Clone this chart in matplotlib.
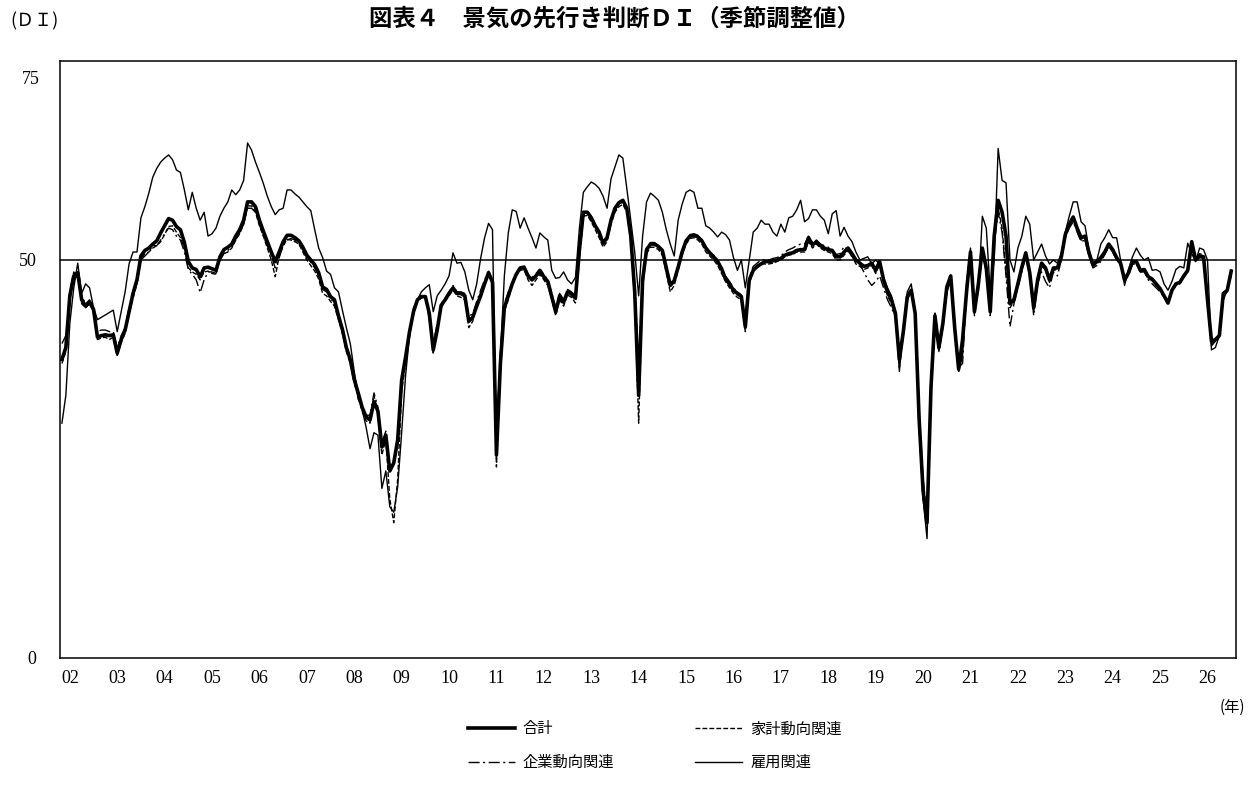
import numpy as np
import matplotlib.pyplot as plt
from matplotlib import transforms

plt.rcParams['font.family'] = ['Noto Sans CJK JP', 'DejaVu Sans']

# monthly values, Jan 2002 onward (one row per year)
total = [
    37.5, 39.0, 45.5, 48.0, 48.4, 45.0, 44.2, 44.7, 43.8, 40.3, 40.5, 40.6,
    40.5, 40.6, 38.3, 40.0, 41.2, 43.5, 45.8, 47.5, 50.5, 51.2, 51.5, 52.0,
    52.4, 53.4, 54.3, 55.2, 55.0, 54.2, 53.8, 52.2, 49.8, 49.0, 48.8, 47.9,
    49.0, 49.1, 48.9, 48.7, 50.4, 51.3, 51.6, 52.0, 53.0, 53.8, 55.0, 57.3,
    57.3, 56.7, 55.0, 53.6, 52.3, 51.0, 49.8, 51.0, 52.3, 53.1, 53.1, 52.8,
    52.4, 51.6, 50.6, 50.0, 49.4, 48.4, 46.6, 46.3, 45.4, 45.0, 43.0, 41.3,
    39.0, 37.5, 35.0, 33.3, 31.5, 30.3, 29.9, 32.2, 31.0, 26.5, 28.0, 23.5,
    24.5, 27.4, 34.9, 37.8, 41.0, 43.5, 45.0, 45.4, 45.4, 43.3, 38.7, 41.2,
    44.3, 45.0, 45.8, 46.5, 45.8, 45.8, 45.5, 42.3, 42.8, 44.2, 45.5, 47.0,
    48.4, 47.2, 25.5, 37.0, 44.0, 45.5, 47.0, 48.2, 49.0, 49.1, 48.0, 47.5,
    48.0, 48.7, 47.9, 47.3, 45.4, 43.5, 45.5, 44.7, 46.0, 45.7, 45.2, 51.3,
    56.0, 56.0, 55.3, 54.3, 53.5, 52.1, 52.8, 55.0, 56.5, 57.2, 57.5, 56.5,
    53.0, 46.0, 33.0, 47.5, 51.3, 52.0, 52.0, 51.7, 51.2, 49.0, 46.8, 47.4,
    49.1, 51.0, 52.4, 53.0, 53.1, 52.9, 52.4, 51.5, 50.9, 50.4, 49.8, 48.9,
    47.6, 47.0, 46.2, 45.8, 45.4, 41.6, 47.5, 48.7, 49.2, 49.5, 49.8, 49.8,
    49.9, 50.0, 50.2, 50.6, 50.8, 50.9, 51.2, 51.3, 51.3, 52.8, 51.9, 52.3,
    51.8, 51.5, 51.3, 51.2, 50.4, 50.4, 51.0, 51.5, 50.8, 50.0, 49.6, 49.2,
    49.3, 49.6, 48.7, 49.8, 47.5, 46.0, 45.0, 43.3, 37.5, 41.0, 45.4, 46.2,
    43.3, 30.0, 21.0, 17.0, 34.0, 43.0, 39.0, 42.0, 46.6, 48.0, 41.5, 36.3,
    40.0, 46.0, 51.0, 43.5, 47.0, 51.5, 49.0, 43.5, 53.0, 57.5, 56.0, 53.0,
    44.5, 45.0, 47.0, 49.1, 50.9, 48.4, 44.0, 47.5, 49.6, 49.0, 47.5, 49.0,
    49.0, 50.4, 53.2, 54.5, 55.4, 54.0, 52.8, 53.0, 50.9, 49.4, 49.8, 50.3,
    51.0, 52.0, 51.3, 50.3, 49.6, 47.5, 48.4, 49.8, 49.8, 48.7, 48.8, 47.9,
    47.6, 47.0, 46.4, 45.5, 44.6, 46.2, 47.0, 47.2, 48.0, 48.7, 52.3, 50.0,
    50.5, 50.4, 45.0, 39.8, 40.0, 40.5, 45.8, 46.2, 48.6,
]

household = [
    37.0, 38.5, 46.0, 48.5, 48.0, 44.5, 44.0, 44.5, 43.5, 40.0, 40.2, 40.3,
    40.0, 40.3, 38.0, 39.6, 40.8, 43.2, 45.2, 47.0, 50.0, 50.8, 51.0, 51.5,
    51.8, 52.3, 53.2, 54.2, 54.3, 53.5, 52.8, 51.5, 49.0, 48.5, 48.2, 47.5,
    48.5, 48.6, 48.3, 48.2, 50.0, 50.8, 51.0, 51.5, 52.5, 53.3, 54.5, 56.8,
    56.8, 56.0, 54.3, 53.0, 51.5, 50.0, 47.9, 50.5, 51.8, 52.6, 52.5, 52.3,
    52.0, 51.0, 50.0, 49.3, 48.6, 47.6, 45.8, 45.5, 44.8, 44.2, 42.5, 40.8,
    38.5, 37.0, 34.5, 32.8, 31.0, 29.8, 29.5, 33.0, 30.5, 25.5, 27.5, 20.0,
    17.0, 22.5, 33.5, 37.0, 40.5, 43.3, 45.0, 45.2, 45.5, 43.0, 38.3, 41.0,
    44.0, 44.8, 45.5, 46.2, 45.5, 45.3, 45.0, 41.5, 42.3, 44.3, 45.8, 47.0,
    48.2, 47.0, 24.0, 36.0, 43.5, 45.0, 46.8, 48.0, 48.7, 48.8, 47.5, 46.8,
    47.5, 48.2, 47.5, 46.8, 45.0, 43.0, 45.0, 44.2, 45.6, 45.3, 44.6, 50.0,
    55.5, 55.6, 54.8, 53.8, 52.8, 51.6, 52.3, 54.5, 56.0, 56.7, 57.0, 56.0,
    52.5, 45.0, 29.5, 46.5, 50.8, 51.6, 51.6, 51.3, 50.6, 48.3, 46.0, 46.8,
    48.7, 50.6, 52.0, 52.7, 52.8, 52.5, 52.0, 51.0, 50.5, 50.0, 49.3, 48.3,
    47.3, 46.5, 45.8, 45.3, 45.0, 41.0, 47.0, 48.6, 49.0, 49.5, 49.5, 49.5,
    49.6, 49.8, 50.0, 50.4, 50.6, 50.7, 51.0, 51.0, 51.0, 52.3, 51.5, 52.0,
    51.5, 51.2, 51.0, 50.8, 50.0, 50.0, 50.6, 51.2, 50.5, 49.5, 49.2, 48.8,
    49.0, 49.3, 48.3, 49.5, 47.2, 45.5, 44.5, 42.8, 36.5, 40.5, 45.0, 46.0,
    43.0, 29.0, 20.0, 18.0, 34.5, 43.5, 39.0, 42.0, 46.5, 48.0, 41.0, 36.0,
    39.5, 45.5, 50.5, 43.0, 46.5, 51.0, 48.5, 43.0, 52.5, 56.5, 54.0, 48.5,
    44.0, 44.8, 46.8, 48.8, 50.5, 48.0, 43.5, 47.2, 49.3, 48.7, 47.2, 48.7,
    48.8, 50.0, 53.0, 54.2, 55.0, 53.6, 52.5, 52.6, 50.6, 49.2, 49.5, 50.0,
    50.7, 51.7, 51.0, 50.0, 49.4, 47.3, 48.2, 49.5, 49.5, 48.5, 48.6, 47.7,
    47.4, 46.8, 46.2, 45.3, 44.5, 46.0, 46.8, 47.0, 47.8, 48.5, 51.2, 50.2,
    50.3, 50.2, 44.8, 39.5, 39.8, 40.3, 45.5, 46.0, 48.4,
]

corporate = [
    39.5, 40.5, 45.0, 47.5, 48.0, 45.5, 44.5, 45.0, 44.0, 41.0, 41.2, 41.2,
    41.0, 41.0, 39.0, 40.5, 41.5, 44.0, 45.5, 47.5, 50.0, 50.5, 51.0, 51.8,
    51.8, 52.5, 53.3, 54.0, 53.8, 53.0, 52.5, 51.0, 48.8, 48.2, 47.5, 45.9,
    47.5, 48.5, 48.5, 48.3, 50.0, 50.8, 51.2, 51.6, 52.6, 53.4, 54.5, 56.5,
    56.5, 56.0, 54.5, 53.0, 51.8, 50.6, 49.0, 50.3, 51.8, 52.5, 52.7, 52.5,
    52.0, 51.3, 50.3, 49.7, 49.0, 48.0, 46.3, 46.0, 45.0, 44.8, 42.8, 41.0,
    38.8, 37.2, 35.0, 32.5, 31.5, 30.5, 30.5, 33.3, 31.5, 27.0, 28.5, 24.0,
    24.5, 27.5, 34.5, 38.0, 40.8, 43.3, 45.0, 45.4, 45.5, 42.5, 39.5, 42.0,
    44.5, 45.2, 46.0, 46.8, 46.0, 46.0, 45.8, 43.0, 43.2, 44.8, 46.2, 47.5,
    48.6, 47.5, 28.0, 38.5, 44.5, 46.0, 47.2, 48.3, 49.0, 49.2, 48.2, 47.8,
    48.3, 48.8, 48.2, 47.5, 45.8, 44.0, 45.8, 45.0, 46.3, 46.0, 45.5, 51.0,
    55.8, 56.2, 55.5, 54.5, 53.5, 52.3, 53.0, 55.0, 56.3, 57.0, 57.3, 56.3,
    53.3, 47.0, 37.0, 48.0, 51.5, 52.2, 52.2, 51.8, 51.3, 49.3, 47.2, 47.5,
    49.3, 51.2, 52.5, 53.2, 53.3, 53.1, 52.6, 51.7, 51.0, 50.6, 50.0, 49.0,
    48.0, 47.3, 46.5, 46.0, 45.6, 42.5, 47.8, 49.2, 49.6, 50.0, 50.0, 50.0,
    50.2, 50.3, 50.5, 51.0, 51.3, 51.5, 51.8, 52.0, 52.0, 53.0, 52.2, 52.5,
    52.0, 51.8, 51.6, 51.3, 50.7, 50.8, 51.7, 51.2, 50.4, 49.8, 49.5, 48.5,
    47.5, 46.8, 47.3, 48.0, 46.5, 45.0, 44.0, 42.8, 38.0, 41.5, 45.5, 46.3,
    43.5, 31.0, 22.5, 18.0, 34.0, 42.5, 38.5, 41.5, 46.0, 47.5, 41.5, 36.5,
    37.0, 46.0, 51.0, 44.0, 47.0, 51.0, 48.5, 43.5, 52.0, 56.0, 53.5, 48.0,
    41.6, 44.5, 46.5, 48.5, 50.5, 48.0, 43.0, 47.0, 48.5, 47.3, 46.5, 48.5,
    48.0, 50.0, 52.8, 54.0, 54.8, 53.5, 52.3, 52.5, 50.5, 49.0, 49.3, 49.8,
    50.7, 51.8, 51.0, 50.0, 49.3, 47.5, 48.0, 49.5, 49.5, 48.5, 48.5, 47.5,
    47.0, 46.5, 46.0, 45.3, 44.8, 46.3, 47.0, 47.3, 48.0, 48.7, 51.8, 50.0,
    50.8, 50.6, 44.5, 39.2, 39.8, 40.5, 45.2, 46.2, 48.8,
]

employment = [
    29.5, 33.0, 42.0, 46.5, 49.6, 45.8, 47.0, 46.5, 44.0, 42.5, 42.8, 43.1,
    43.4, 43.7, 41.0, 43.5, 46.0, 49.5, 51.0, 51.0, 55.3, 56.7, 58.4, 60.4,
    61.5, 62.3, 62.8, 63.2, 62.6, 61.3, 61.0, 58.8, 56.3, 58.5, 56.5, 55.0,
    56.0, 53.0, 53.3, 54.0, 55.5, 56.5, 57.3, 58.8, 58.2, 58.8, 60.0, 64.7,
    63.8, 62.3, 61.0, 59.6, 58.0, 56.7, 55.7, 56.3, 56.5, 58.8, 58.8, 58.3,
    57.9, 57.3, 56.7, 56.2, 53.8, 51.5, 50.3, 48.6, 48.2, 46.5, 46.0, 43.7,
    41.5, 39.5, 36.0, 33.0, 31.2, 29.0, 26.3, 28.3, 28.0, 21.3, 23.5, 19.0,
    18.3, 21.5, 28.3, 35.5, 40.5, 44.0, 45.0, 46.0, 46.5, 46.9, 43.5, 45.5,
    46.2, 47.0, 48.0, 50.9, 49.6, 49.7, 48.5, 46.2, 45.0, 47.0, 50.2, 52.8,
    54.6, 53.8, 25.0, 38.0, 48.0, 53.4, 56.3, 56.1, 54.0, 55.3, 54.0, 52.8,
    51.5, 53.4, 52.9, 52.5, 48.7, 47.7, 47.8, 48.5, 47.5, 47.0, 47.8, 54.0,
    58.5, 59.2, 59.8, 59.5, 59.0, 58.0, 56.5, 60.2, 61.7, 63.2, 62.8, 59.0,
    55.0, 51.0, 45.5, 53.0, 57.3, 58.4, 58.0, 57.5, 56.0, 53.8, 52.0, 50.5,
    55.0, 57.0, 58.5, 58.8, 58.5, 56.5, 56.5, 54.3, 54.0, 53.5, 52.9, 53.5,
    53.2, 52.5, 50.3, 48.7, 50.0, 46.5, 50.0, 53.5, 54.0, 55.0, 54.5, 54.5,
    53.5, 53.0, 54.5, 53.5, 55.3, 55.5, 56.3, 57.5, 54.8, 55.2, 56.3, 56.3,
    55.5, 55.0, 53.3, 55.8, 56.2, 53.0, 54.1, 53.0, 52.3, 51.0, 50.0, 50.2,
    50.4, 49.5, 50.0, 49.5, 47.8, 46.5, 45.5, 43.5, 36.0, 41.5, 46.0, 47.0,
    43.5, 29.0, 20.0, 15.0, 33.0, 42.5, 38.5, 42.0, 46.0, 47.5, 41.0, 36.0,
    38.0, 47.0, 51.5, 44.0, 46.0, 55.5, 54.0, 46.0, 50.0, 64.0, 60.0, 59.7,
    50.0, 48.5, 51.5, 53.0, 55.5, 54.5, 50.0, 51.0, 52.0, 50.5, 49.5, 50.0,
    49.6, 50.8, 53.5, 55.5, 57.3, 57.3, 54.8, 54.3, 51.3, 49.6, 50.0, 52.0,
    52.8, 53.8, 52.8, 52.8, 50.0, 46.8, 48.8, 50.4, 51.5, 50.6, 50.0, 50.3,
    48.7, 48.8, 48.5, 47.0, 46.2, 47.3, 48.8, 49.2, 49.0, 52.1, 50.8, 49.8,
    51.5, 51.3, 50.0, 38.7, 39.0, 40.5, 45.0, 46.2, 48.0,
]

years = list(range(2002, 2027))
year_labels = ["%02d" % (y % 100) for y in years]


def main():
    fig = plt.figure(figsize=(12.54, 7.85), dpi=100)
    ax = fig.add_axes([0.0478, 0.1618, 0.9378, 0.7605])

    months = np.arange(len(total))
    ax.plot(months, household, color="black", lw=1.0, ls=(0, (3.5, 1.5)),
            label="家計動向関連")
    ax.plot(months, corporate, color="black", lw=1.0, ls=(0, (8, 2.5, 1.5, 2.5)),
            label="企業動向関連")
    ax.plot(months, employment, color="black", lw=1.0, label="雇用関連")
    ax.plot(months, total, color="black", lw=2.6, label="合計")
    ax.axhline(50, color="black", lw=1.1)

    ax.set_xlim(-0.5, 297.2)
    ax.set_ylim(0, 75)
    for sp in ax.spines.values():
        sp.set_linewidth(1.1)

    ax.set_xticks([(y - 2002) * 12 + 2 for y in years])
    ax.set_xticklabels(year_labels, family="Liberation Serif", fontsize=13)
    ax.set_yticks([0, 50])
    ax.set_yticklabels(["0", "50"], family="Liberation Serif", fontsize=13)
    ax.tick_params(length=0)
    ax.tick_params(axis="x", pad=9)
    ax.tick_params(axis="y", pad=17)

    # the "75" label sits a little below the top of the frame
    off = transforms.ScaledTranslation(0, -0.19, fig.dpi_scale_trans)
    ax.text(-0.017, 75, "75", transform=ax.get_yaxis_transform() + off,
            ha="right", va="center", family="Liberation Serif", fontsize=13)

    fig.text(0.49, 0.977, "図表４　景気の先行き判断ＤＩ（季節調整値）",
             ha="center", va="center", fontsize=16.8, fontweight="bold")
    fig.text(0.008, 0.973, "(ＤＩ)", ha="left", va="center", fontsize=13)
    fig.text(0.993, 0.099, "(年)", ha="right", va="center", fontsize=11)

    h, l = ax.get_legend_handles_labels()
    order = [3, 1, 0, 2]
    fig.legend([h[i] for i in order], [l[i] for i in order], ncol=2,
               loc="center", bbox_to_anchor=(0.522, 0.05), frameon=False,
               fontsize=11, handlelength=3.1, handletextpad=0.5,
               columnspacing=5.3, labelspacing=1.1)

    fig.savefig("out.png", dpi=100)


if __name__ == "__main__":
    main()
